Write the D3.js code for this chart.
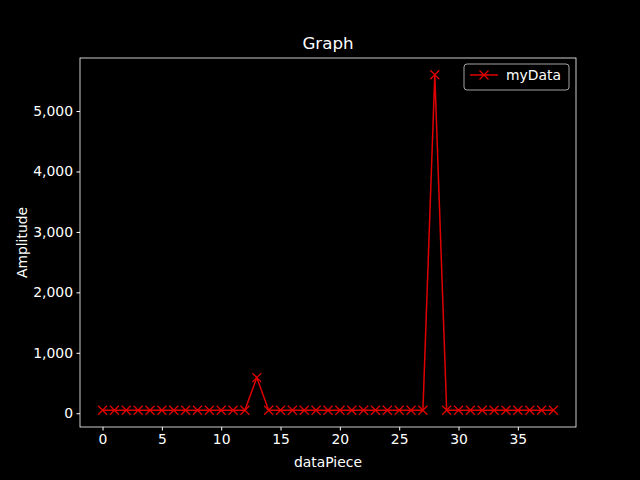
<!DOCTYPE html>
<html><head><meta charset="utf-8">
<script src="https://cdn.jsdelivr.net/npm/d3@7"></script>
<style>body{margin:0;background:#000}</style></head>
<body><svg id="c" width="640" height="480"></svg>
<script>
const xValues = d3.range(0, 39);
const yValues = [50,50,50,50,50,50,50,50,50,50,50,50,50,590,50,50,50,50,50,50,50,50,50,50,50,50,50,50,5600,50,50,50,50,50,50,50,50,50,50];
const xTicks = [0,5,10,15,20,25,30,35];
const yTicks = [0,1000,2000,3000,4000,5000];
const seriesName = "myData";

const svg = d3.select("#c");
const L=80,R=576,T=58,B=427;
const font = "DejaVu Sans, sans-serif";
svg.append("rect").attr("width",640).attr("height",480).attr("fill","#000");
const x = d3.scaleLinear().domain([-1.9,39.9]).range([L,R]);
const y = d3.scaleLinear().domain([-227.5,5877.5]).range([B,T]);

const xa = svg.append("g").attr("transform",`translate(0,${B})`).call(d3.axisBottom(x).tickValues(xTicks).tickSize(3.5).tickPadding(3.5));
const ya = svg.append("g").attr("transform",`translate(${L},0)`).call(d3.axisLeft(y).tickValues(yTicks).tickSize(3.5).tickPadding(3.5));
[xa,ya].forEach(a=>{a.select(".domain").remove();a.selectAll("line").attr("stroke","#fff");a.selectAll("text").attr("fill","#fff").style("font-family",font).style("font-size","13.9px");});
svg.append("rect").attr("x",L).attr("y",T).attr("width",R-L).attr("height",B-T).attr("fill","none").attr("stroke","#fff").attr("stroke-width",0.8);

svg.append("path").datum(xValues.map((v,i)=>[v,yValues[i]]))
 .attr("d",d3.line().x(d=>x(d[0])).y(d=>y(d[1])))
 .attr("fill","none").attr("stroke","#e00000").attr("stroke-width",1.5);
const cross=(g,cx,cy)=>g.append("path").attr("d",`M${cx-4.5},${cy-4.5}L${cx+4.5},${cy+4.5}M${cx-4.5},${cy+4.5}L${cx+4.5},${cy-4.5}`).attr("stroke","#e00000").attr("stroke-width",1.3);
const mk=svg.append("g");
xValues.forEach((v,i)=>cross(mk,x(v),y(yValues[i])));

svg.append("text").attr("x",(L+R)/2).attr("y",T-9).attr("text-anchor","middle").attr("fill","#fff").style("font-family",font).style("font-size","16.7px").text("Graph");
svg.append("text").attr("x",(L+R)/2).attr("y",467).attr("text-anchor","middle").attr("fill","#fff").style("font-family",font).style("font-size","13.9px").text("dataPiece");
svg.append("text").attr("transform",`translate(27,${(T+B)/2}) rotate(-90)`).attr("text-anchor","middle").attr("fill","#fff").style("font-family",font).style("font-size","13.9px").text("Amplitude");

const lg=svg.append("g");
lg.append("rect").attr("x",464).attr("y",64).attr("width",105).attr("height",26).attr("rx",3).attr("fill","#000").attr("stroke","#ccc").attr("stroke-width",0.8);
lg.append("line").attr("x1",470).attr("x2",498).attr("y1",75).attr("y2",75).attr("stroke","#e00000").attr("stroke-width",1.5);
cross(lg,484,75);
lg.append("text").attr("x",506).attr("y",80).attr("fill","#fff").style("font-family",font).style("font-size","13.9px").text(seriesName);
</script></body></html>
